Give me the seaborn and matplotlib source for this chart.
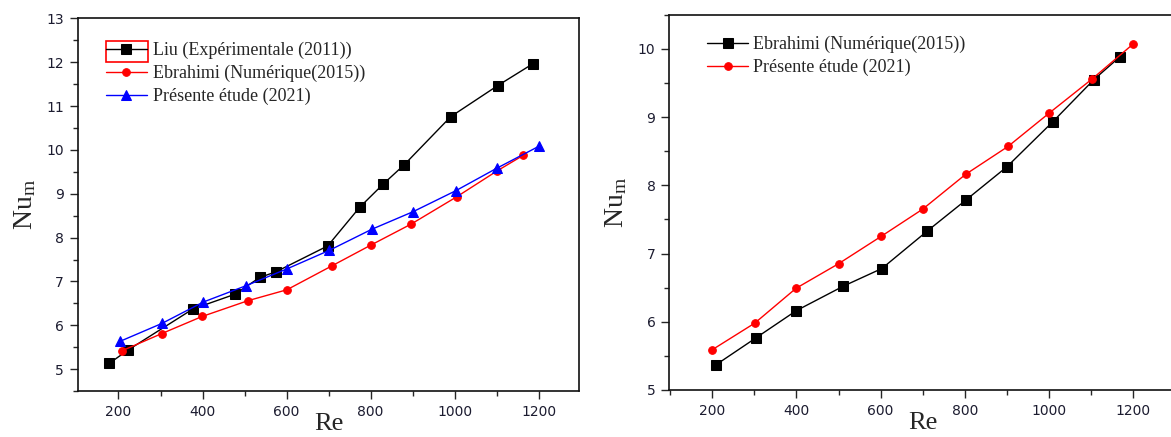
import matplotlib
matplotlib.use("Agg")
import matplotlib.pyplot as plt
from matplotlib.patches import Rectangle
from matplotlib.ticker import MultipleLocator
import pandas as pd
import seaborn as sns

# ---- Left panel data ----
re_liu = [178, 222, 377, 478, 536, 575, 698, 774, 830, 880, 991, 1103, 1187]
nu_liu = [5.13, 5.43, 6.37, 6.71, 7.09, 7.22, 7.81, 8.69, 9.22, 9.66, 10.76, 11.47, 11.97]

re_ebr_l = [209, 303, 399, 508, 601, 709, 801, 897, 1005, 1101, 1164]
nu_ebr_l = [5.42, 5.81, 6.20, 6.56, 6.81, 7.36, 7.83, 8.31, 8.93, 9.52, 9.88]

re_pres_l = [203, 303, 402, 503, 602, 702, 803, 901, 1003, 1100, 1200]
nu_pres_l = [5.63, 6.04, 6.53, 6.90, 7.29, 7.71, 8.19, 8.59, 9.07, 9.58, 10.08]

# ---- Right panel data ----
re_ebr_r = [209, 303, 399, 511, 603, 711, 802, 900, 1009, 1107, 1168]
nu_ebr_r = [5.37, 5.76, 6.16, 6.52, 6.78, 7.33, 7.78, 8.27, 8.93, 9.55, 9.88]

re_pres_r = [200, 301, 399, 500, 601, 700, 802, 903, 1001, 1103, 1200]
nu_pres_r = [5.59, 5.98, 6.49, 6.85, 7.25, 7.65, 8.16, 8.57, 9.06, 9.56, 10.07]

lbl_liu = "Liu (Expérimentale (2011))"
lbl_ebr = "Ebrahimi (Numérique(2015))"
lbl_pres = "Présente étude (2021)"

xticks = [200, 400, 600, 800, 1000, 1200]

sns.set_style("ticks")
plt.rcParams["font.family"] = ["DejaVu Sans"]
plt.rcParams["mathtext.fontset"] = "custom"
plt.rcParams["mathtext.rm"] = "Liberation Serif"
plt.rcParams["mathtext.it"] = "Liberation Serif:italic"

fig = plt.figure(figsize=(11.71, 4.37), dpi=100)
axL = fig.add_axes([0.0664, 0.1053, 0.4283, 0.8524])
axR = fig.add_axes([0.5716, 0.1076, 0.4327, 0.8588])

serif = "Liberation Serif"
tick_col = "#1c1c30"


def draw(ax, x, y, color, marker, ms, label):
    df = pd.DataFrame({"Re": x, "Nu": y})
    sns.lineplot(data=df, x="Re", y="Nu", ax=ax, color=color, marker=marker,
                 markersize=ms, markeredgecolor=color, linewidth=1.0,
                 sort=False, estimator=None, label=label)


def style(ax, xlim, ylim, yticks):
    ax.set_xlim(*xlim)
    ax.set_ylim(*ylim)
    ax.set_xticks(xticks)
    ax.set_yticks(yticks)
    ax.xaxis.set_minor_locator(MultipleLocator(100))
    ax.yaxis.set_minor_locator(MultipleLocator(0.5))
    ax.tick_params(which="major", direction="out", length=6, width=1.0,
                   labelsize=10, labelcolor=tick_col, pad=4)
    ax.tick_params(which="minor", direction="out", length=3.5, width=1.0)
    ax.tick_params(top=False, right=False)
    for s in ax.spines.values():
        s.set_visible(True)
        s.set_linewidth(1.2)
        s.set_color("#111111")
    ax.set_xlabel("Re", fontsize=19, family=serif, labelpad=-4)
    ax.set_ylabel(r"$\mathrm{Nu}_\mathrm{m}$", fontsize=20, labelpad=6)


# Left: three series
draw(axL, re_liu, nu_liu, "black", "s", 7, lbl_liu)
draw(axL, re_ebr_l, nu_ebr_l, "red", "o", 5.5, lbl_ebr)
draw(axL, re_pres_l, nu_pres_l, "blue", "^", 7, lbl_pres)
style(axL, (103, 1297), (4.5, 13), [5, 6, 7, 8, 9, 10, 11, 12, 13])
axL.legend(loc="upper left", bbox_to_anchor=(0.0564, 0.937), frameon=False,
           borderpad=0, borderaxespad=0, handlelength=2.25, handletextpad=0.35,
           labelspacing=0.32, prop={"family": serif, "size": 13})
axL.add_patch(Rectangle((0.0564, 0.884), 0.0832, 0.0556, transform=axL.transAxes,
                        fill=False, edgecolor="red", linewidth=1.2, zorder=5))

# Right: two series
draw(axR, re_ebr_r, nu_ebr_r, "black", "s", 6.5, lbl_ebr)
draw(axR, re_pres_r, nu_pres_r, "red", "o", 5.5, lbl_pres)
style(axR, (98, 1302), (5, 10.5), [5, 6, 7, 8, 9, 10])
axR.legend(loc="upper left", bbox_to_anchor=(0.075, 0.943), frameon=False,
           borderpad=0, borderaxespad=0, handlelength=2.25, handletextpad=0.3,
           labelspacing=0.32, prop={"family": serif, "size": 13})

fig.savefig("out.png", dpi=100)
